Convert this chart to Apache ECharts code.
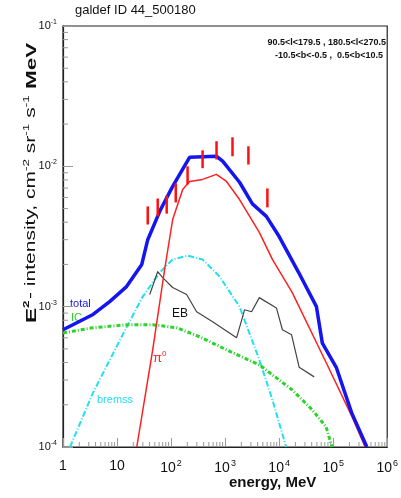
<!DOCTYPE html>
<html>
<head>
<meta charset="utf-8">
<script src="https://cdn.jsdelivr.net/npm/echarts@6/dist/echarts.min.js"></script>
<style>
  html, body { margin: 0; padding: 0; background: #fff; }
  #chart { width: 401px; height: 498px; }
</style>
</head>
<body>
<div id="chart"></div>
<script>
// spectra, [energy MeV, E^2 intensity]
const total = [
  [1, 6.85e-4], [3.6, 8.8e-4], [7.4, 1.09e-3], [15, 1.39e-3], [28.7, 2.0e-3],
  [37, 3.0e-3], [62, 4.8e-3], [107, 7.2e-3], [220, 0.0116], [690, 0.0118],
  [900, 0.0109], [1850, 7.7e-3], [3200, 5.4e-3], [5800, 4.4e-3], [1e4, 3.16e-3],
  [2.3e4, 1.75e-3], [4.9e4, 1.0e-3], [6.3e4, 5.5e-4], [1.14e5, 3.7e-4],
  [2.2e5, 1.75e-4], [4.2e5, 1e-4]
];
const pion = [
  [23.2, 1e-4], [45.7, 4.93e-4], [76, 1.84e-3], [107, 4.18e-3], [164, 6.85e-3],
  [220, 7.8e-3], [383, 8.07e-3], [690, 8.77e-3], [1060, 7.8e-3], [1850, 5.8e-3],
  [4300, 3.38e-3], [7500, 2.17e-3], [1.75e4, 1.26e-3], [7.4e4, 4.0e-4],
  [2.24e5, 1.64e-4], [3.9e5, 1e-4]
];
const bremss = [
  [1.35, 1e-4], [3.58, 2.43e-4], [7.36, 4.18e-4], [15.2, 7.2e-4], [29.9, 1.18e-3],
  [61.5, 1.75e-3], [107, 2.17e-3], [203, 2.31e-3], [383, 2.17e-3], [790, 1.64e-3],
  [1850, 1.0e-3], [4300, 4.18e-4], [7500, 2.17e-4], [1.35e4, 1e-4]
];
const ic = [
  [1, 6.5e-4], [3.58, 7.08e-4], [15.2, 7.43e-4], [45.7, 7.43e-4], [126, 7.08e-4],
  [338, 6.1e-4], [1060, 4.93e-4], [4300, 3.85e-4], [1.75e4, 2.55e-4],
  [4.1e4, 1.84e-4], [7.4e4, 1.39e-4], [9.5e4, 1e-4]
];
const eb = [
  [40.3, 1.22e-3], [56.6, 1.78e-3], [70, 1.61e-3], [107, 1.37e-3], [194, 1.22e-3],
  [297, 9.2e-4], [587, 7.8e-4], [1630, 6.0e-4], [2290, 9.5e-4], [3090, 9.2e-4],
  [4300, 1.16e-3], [8900, 9.8e-4], [1.15e4, 6.85e-4], [1.7e4, 6.3e-4],
  [2.35e4, 3.7e-4], [4.45e4, 3.16e-4]
];
// EGRET points: [energy, low, high]
const egret = [
  [37, 3.85e-3, 5.18e-3], [56.6, 4.4e-3, 5.9e-3], [83, 4.6e-3, 6.2e-3],
  [122, 5.53e-3, 7.56e-3], [202, 7.43e-3, 0.01], [383, 9.7e-3, 0.013],
  [694, 0.0112, 0.0151], [1370, 0.0118, 0.0161], [2700, 0.0103, 0.0139],
  [6060, 5.1e-3, 6.96e-3]
];
// minor tick positions for the log axes
const minorX = [];
for (let k = 0; k < 6; k++) for (let m = 2; m < 10; m++) minorX.push(m * Math.pow(10, k));
const minorY = [];
for (let k = -4; k < -1; k++) for (let m = 2; m < 10; m++) minorY.push(m * Math.pow(10, k));

const FONT = 'Liberation Sans';
const NARROW = '"Liberation Sans Narrow", "Liberation Sans"';

function powLabel(v) {
  const e = Math.round(Math.log10(v));
  if (e === 0) return '1';
  if (e === 1) return '10';
  return '10{s|' + e + '}';
}

const chart = echarts.init(document.getElementById('chart'));
const option = {
  animation: false,
  grid: {
    left: 63, right: 13, top: 26, bottom: 51,
    show: true, borderColor: '#222', borderWidth: 1.2
  },
  xAxis: {
    type: 'log', logBase: 10, min: 1, max: 1e6,
    axisLine: { lineStyle: { color: '#222', width: 1.2 } },
    axisTick: { inside: true, length: 9, lineStyle: { color: '#999', width: 1 } },
    splitLine: { show: false },
    axisLabel: {
      margin: 12, color: '#111', fontFamily: FONT, fontSize: 14,
      formatter: powLabel,
      rich: { s: { fontSize: 9, fontFamily: FONT, color: '#111', padding: [0, 0, 10, 1] } }
    }
  },
  yAxis: {
    type: 'log', logBase: 10, min: 1e-4, max: 0.1,
    axisLine: { lineStyle: { color: '#222', width: 1.2 } },
    axisTick: { inside: true, length: 10, lineStyle: { color: '#999', width: 1 } },
    splitLine: { show: false },
    axisLabel: {
      margin: 6, color: '#111', fontFamily: FONT, fontSize: 11,
      formatter: powLabel,
      rich: { s: { fontSize: 7, fontFamily: FONT, color: '#111', padding: [0, 0, 8, 0] } }
    }
  },
  series: [
    {
      type: 'custom', name: 'minorX', silent: true, z: 1,
      data: minorX.map(v => [v, 1e-4]),
      renderItem: (params, api) => {
        const p = api.coord([api.value(0), api.value(1)]);
        return { type: 'line', shape: { x1: p[0], y1: p[1], x2: p[0], y2: p[1] - 5 },
          style: { stroke: '#999', lineWidth: 1 } };
      }
    },
    {
      type: 'custom', name: 'minorY', silent: true, z: 1,
      data: minorY.map(v => [1, v]),
      renderItem: (params, api) => {
        const p = api.coord([api.value(0), api.value(1)]);
        return { type: 'line', shape: { x1: p[0], y1: p[1], x2: p[0] + 5, y2: p[1] },
          style: { stroke: '#999', lineWidth: 1 } };
      }
    },
    {
      type: 'line', name: 'bremss', data: bremss, symbol: 'none', z: 3,
      lineStyle: { color: '#22e0f0', width: 2, type: [6, 2, 1, 2] }
    },
    {
      type: 'line', name: 'IC', data: ic, symbol: 'none', z: 3,
      lineStyle: { color: '#2ad42a', width: 3, type: [4, 2, 1, 2] }
    },
    {
      type: 'line', name: 'EB', data: eb, symbol: 'none', z: 3,
      lineStyle: { color: '#444', width: 1.2 }
    },
    {
      type: 'line', name: 'pi0', data: pion, symbol: 'none', z: 4,
      lineStyle: { color: '#ff2020', width: 1.5 }
    },
    {
      type: 'line', name: 'total', data: total, symbol: 'none', z: 5,
      lineStyle: { color: '#1515f0', width: 3.5 }
    },
    {
      type: 'custom', name: 'EGRET', z: 6,
      encode: { x: 0, y: [1, 2] },
      data: egret,
      renderItem: (params, api) => {
        const a = api.coord([api.value(0), api.value(1)]);
        const b = api.coord([api.value(0), api.value(2)]);
        return { type: 'line', shape: { x1: a[0], y1: a[1], x2: b[0], y2: b[1] },
          style: { stroke: '#ff1010', lineWidth: 2.5 } };
      }
    }
  ],
  graphic: [
    { type: 'text', x: 75, y: 4, style: { text: 'galdef ID 44_500180', fontFamily: NARROW, fontSize: 13, fill: '#111' } },
    { type: 'text', x: 386, y: 38, style: { text: '90.5<l<179.5 , 180.5<l<270.5', fontFamily: NARROW, fontSize: 9, fontWeight: 'bold', fill: '#111', align: 'right' } },
    { type: 'text', x: 383, y: 51, style: { text: '-10.5<b<-0.5 ,  0.5<b<10.5', fontFamily: NARROW, fontSize: 9, fontWeight: 'bold', fill: '#111', align: 'right' } },
    {
      // the reference picture is stretched vertically, so the rotated label is stretched along its length
      type: 'text', x: 22, y: 323, rotation: Math.PI / 2, scaleX: 1.5,
      style: {
        text: '{b|E}{sb|2}{n|- intensity, cm}{s|-2}{n| sr}{s|-1}{n| s}{s|-1}{b| MeV}',
        fill: '#111',
        rich: {
          b: { fontFamily: FONT, fontSize: 15, fontWeight: 'bold', fill: '#111' },
          sb: { fontFamily: FONT, fontSize: 9, fontWeight: 'bold', fill: '#111', padding: [0, 1, 10, 0] },
          n: { fontFamily: FONT, fontSize: 14, fill: '#111' },
          s: { fontFamily: FONT, fontSize: 9, fill: '#111', padding: [0, 0, 10, 0] }
        }
      }
    },
    { type: 'text', x: 229, y: 475, style: { text: 'energy, MeV', fontFamily: FONT, fontSize: 15, fontWeight: 'bold', fill: '#111' } },
    { type: 'text', x: 70, y: 298, style: { text: 'total', fontFamily: FONT, fontSize: 11, fill: '#1515f0' } },
    { type: 'text', x: 71, y: 312, style: { text: 'IC', fontFamily: NARROW, fontSize: 11, fill: '#2ad42a' } },
    { type: 'text', x: 172, y: 308, style: { text: 'EB', fontFamily: FONT, fontSize: 12, fill: '#111' } },
    { type: 'text', x: 153, y: 350, style: { text: '{p|π}{s|0}', rich: { p: { fontFamily: FONT, fontSize: 13, fill: '#ff2020' }, s: { fontFamily: FONT, fontSize: 8, fill: '#ff2020', padding: [0, 0, 9, 0] } } } },
    { type: 'text', x: 97, y: 394, style: { text: 'bremss', fontFamily: FONT, fontSize: 11, fill: '#22e0f0' } }
  ]
};
chart.setOption(option);
</script>
</body>
</html>
